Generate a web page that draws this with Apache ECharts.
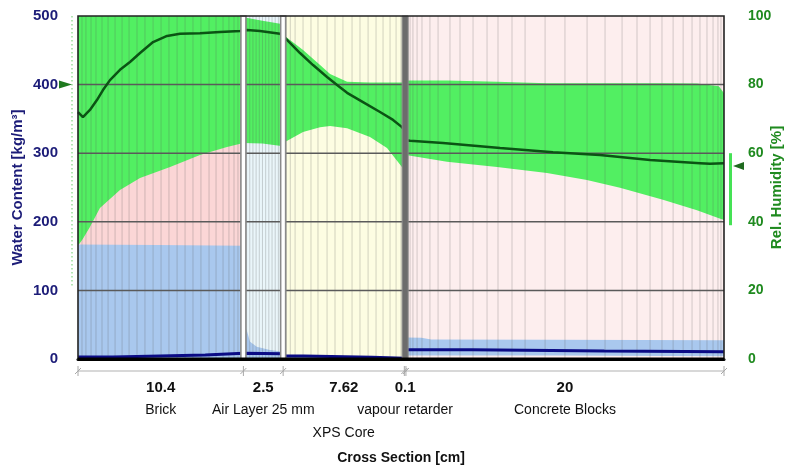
<!DOCTYPE html>
<html><head><meta charset="utf-8">
<script src="https://cdn.jsdelivr.net/npm/echarts@6/dist/echarts.min.js"></script>
<style>html,body{margin:0;padding:0;background:#fff}#c{width:785px;height:471px}</style>
</head><body><div id="c"></div>
<script>
// ---------------- data ----------------
const layerNames = ['Brick', 'Air Layer 25 mm', 'XPS Core', 'vapour retarder', 'Concrete Blocks'];
const layerThickness = [10.4, 2.5, 7.62, 0.1, 20];
const thicknessLabels = ['10.4', '2.5', '7.62', '0.1', '20'];
const wcTicks = [0, 100, 200, 300, 400, 500];
const rhTicks = [0, 20, 40, 60, 80, 100];
// numerical mesh element lines [cm]
const meshLines = [0.25, 0.5, 0.82, 1.13, 1.51, 1.89, 2.33, 2.77, 3.21, 3.71, 4.21, 4.72, 5.22, 5.72, 6.23, 6.73, 7.23, 7.73, 8.24, 8.68, 9.12, 9.49, 9.81, 10.06, 10.25,
  10.6, 10.8, 11.0, 11.2, 11.4, 11.6, 11.8, 12.0, 12.2, 12.4, 12.6,
  13.1, 13.35, 13.65, 14.15, 14.65, 15.09, 15.66, 16.16, 16.66, 17.23, 17.73, 18.24, 18.74, 19.18, 19.62, 20.0, 20.31,
  20.75, 20.88, 21.06, 21.32, 21.63, 22.13, 22.64, 23.39, 24.02, 24.84, 25.72, 26.41, 27.29, 28.11, 29.37, 30.62, 32.01, 33.14, 34.21, 35.15, 35.97, 36.72, 37.42, 38.05, 38.61, 39.11, 39.55, 39.93, 40.24, 40.43];
// relative humidity [%] : [x cm, value]
const rhLine = [[0, 72], [0.31, 70.5], [0.75, 72.6], [1.19, 75.5], [1.57, 78.4], [2.01, 81.3], [2.64, 84.3], [3.27, 86.6], [3.9, 89.2], [4.72, 92.4], [5.6, 94.2], [6.41, 94.8], [7.67, 95.0], [8.93, 95.3], [10.19, 95.6], [10.4, 95.8],
  [10.63, 95.9], [11.44, 95.6], [12.7, 94.8], [12.9, 94.3],
  [13.02, 93.6], [13.96, 89.2], [14.78, 85.7], [15.66, 82.2], [16.29, 79.9], [16.92, 77.6], [17.92, 74.9], [18.99, 72.0], [19.81, 69.7], [20.37, 67.6], [20.52, 66.8],
  [20.62, 63.8], [20.88, 63.6], [22.95, 63.0], [26.54, 61.5], [29.87, 60.3], [32.82, 59.5], [35.97, 58.0], [39.11, 57.1], [39.74, 56.9], [40.62, 57.1]];
// relative humidity envelope : [x cm, min, max]
const rhBand = [[0, 33, 100], [0.3, 35, 100], [0.75, 38.5, 100], [1.38, 44, 100], [2.64, 49.3, 100], [3.9, 52.8, 100], [5.79, 56, 100], [7.67, 59.5, 100], [9.37, 61.8, 100], [10.4, 63, 100],
  [10.4, 63, 99.6], [11.6, 62.8, 98.6], [12.9, 62, 97.6],
  [12.9, 63, 94.5], [14.15, 66.2, 90.1], [15.22, 67.6, 85.7], [15.85, 67.9, 83.1], [16.92, 67.3, 80.8], [18.36, 64.7, 80.6], [19.43, 61.5, 80.6], [20.37, 56, 80.6], [20.52, 55.5, 80.6],
  [20.62, 59.5, 81.2], [23.2, 57.5, 81.2], [26.35, 56, 80.8], [29.49, 54.2, 80.4], [32.0, 52.2, 80.4], [34.08, 49.9, 80.4], [36.78, 46.4, 80.4], [38.92, 43.4, 80.3], [40.3, 41, 79.5], [40.62, 40.5, 77.5]];
// water content [kg/m3] : [x cm, value]
const wcLine = [[0, 3], [2.2, 3], [2.2, 4.5], [5.16, 4.5], [5.16, 6], [8, 6], [8, 8.3], [10.4, 8.3],
  [10.4, 9], [12.9, 7.5],
  [12.9, 4.5], [14.2, 4.5], [14.2, 2.5], [18.5, 2.5], [18.5, 1], [20.52, 1],
  [20.62, 13.5], [24.75, 13.5], [24.75, 11.5], [33.1, 11.5], [33.1, 10.5], [40.62, 10.5]];
// water content envelope : [x cm, min, max]
const wcBand = [[0, 0, 167], [5, 0, 166], [10.4, 0, 165],
  [10.4, 0, 50], [10.61, 0, 42], [10.82, 0, 25], [11.24, 0, 18], [12.07, 0, 13], [12.9, 0, 10.5],
  [12.9, 0, 5], [20.52, 0, 2],
  [20.62, 5, 31.5], [21.6, 5, 31], [22.2, 5, 28.5], [30, 5, 28], [40.62, 4, 27.5]];
// boundary conditions (RH %)
const exteriorRange = [21, 100];
const exteriorMean = 80;
const interiorRange = [39, 60];
const interiorMean = 56.3;

// ---------------- derived ----------------
const bounds = [0];
layerThickness.forEach(t => bounds.push(+(bounds[bounds.length - 1] + t).toFixed(2)));
const total = bounds[bounds.length - 1];
const wcMax = wcTicks[wcTicks.length - 1];

// ---------------- styles ----------------
const layerFill = ['#fbd6d6', '#eaf6fa', '#fdfde2', '#6c6c6c', '#fdeeee'];
const nameRow = [0, 0, 1, 0, 0];
const FONT = '"Liberation Sans", Arial, sans-serif';

const single = [[0, 0]];

function bandRenderer(points, color) {
  return function (params, api) {
    const up = points.map(p => api.coord([p[0], p[2]]));
    const lo = points.slice().reverse().map(p => api.coord([p[0], p[1]]));
    return { type: 'polygon', shape: { points: up.concat(lo) }, style: { fill: color } };
  };
}

const chart = echarts.init(document.getElementById('c'));
chart.setOption({
  animation: false,
  backgroundColor: '#fff',
  grid: { left: 78, right: 61, top: 16, bottom: 112, containLabel: false, outerBoundsMode: 'none' },
  xAxis: {
    type: 'value', min: 0, max: total,
    axisLine: { show: true, onZero: false, lineStyle: { color: '#000', width: 3 } },
    axisTick: { show: false }, axisLabel: { show: false }, splitLine: { show: false }
  },
  yAxis: [{
    type: 'value', min: 0, max: wcMax, interval: 100, position: 'left',
    name: 'Water Content [kg/m³]', nameLocation: 'middle', nameGap: 53, nameRotate: 90, nameMoveOverlap: false,
    nameTextStyle: { color: '#1c1c78', fontWeight: 'bold', fontSize: 15, fontFamily: FONT },
    axisLine: { show: false }, axisTick: { show: false }, splitLine: { show: false },
    axisLabel: { color: '#1c1c78', fontWeight: 'bold', fontSize: 15, fontFamily: FONT, margin: 20 }
  }, {
    type: 'value', min: 0, max: rhTicks[rhTicks.length - 1], interval: 20, position: 'right',
    name: 'Rel. Humidity [%]', nameLocation: 'middle', nameGap: 45, nameRotate: 90, nameMoveOverlap: false,
    nameTextStyle: { color: '#1f8a1f', fontWeight: 'bold', fontSize: 15, fontFamily: FONT },
    axisLine: { show: false }, axisTick: { show: false }, splitLine: { show: false },
    axisLabel: { color: '#1f8a1f', fontWeight: 'bold', fontSize: 14, fontFamily: FONT, margin: 24 }
  }],
  series: [
    { // layer backgrounds
      type: 'custom', z: 1, silent: true,
      data: layerThickness.map((t, i) => [bounds[i], bounds[i + 1], i]),
      encode: { x: [0, 1], y: 2 },
      renderItem: function (params, api) {
        const i = api.value(2);
        const a = api.coord([api.value(0), wcMax]);
        const b = api.coord([api.value(1), 0]);
        return { type: 'rect', shape: { x: a[0], y: a[1], width: b[0] - a[0], height: b[1] - a[1] }, style: { fill: layerFill[i] } };
      }
    },
    { // RH envelope
      type: 'custom', z: 2, silent: true, yAxisIndex: 1, data: single, encode: { x: 0, y: 1 },
      renderItem: bandRenderer(rhBand, '#52ef62')
    },
    { // water content envelope
      type: 'custom', z: 3, silent: true, yAxisIndex: 0, data: single, encode: { x: 0, y: 1 },
      renderItem: bandRenderer(wcBand, '#a9c8ee')
    },
    { // mesh lines
      type: 'custom', z: 4, silent: true, data: meshLines.map(x => [x, 0]), encode: { x: 0, y: 1 },
      renderItem: function (params, api) {
        const a = api.coord([api.value(0), wcMax]);
        const b = api.coord([api.value(0), 0]);
        return { type: 'line', shape: { x1: a[0], y1: a[1], x2: b[0], y2: b[1] }, style: { stroke: 'rgba(90,90,90,0.26)', lineWidth: 1 } };
      }
    },
    { // horizontal grid lines
      type: 'custom', z: 5, silent: true, data: wcTicks.slice(1, -1).map(v => [0, v]), encode: { x: 0, y: 1 },
      renderItem: function (params, api) {
        const a = api.coord([0, api.value(1)]);
        const b = api.coord([total, api.value(1)]);
        return { type: 'line', shape: { x1: a[0], y1: a[1], x2: b[0], y2: b[1] }, style: { stroke: '#5a5a5a', lineWidth: 1.5 } };
      }
    },
    { // water content
      type: 'line', z: 6, yAxisIndex: 0, data: wcLine, symbol: 'none', silent: true,
      lineStyle: { color: '#0b0b85', width: 3 }
    },
    { // relative humidity
      type: 'line', z: 6, yAxisIndex: 1, data: rhLine, symbol: 'none', silent: true,
      lineStyle: { color: '#0b5414', width: 2.5 }
    },
    { // layer separators (air layer)
      type: 'custom', z: 7, silent: true, data: [[bounds[1], 0], [bounds[2], 0]], encode: { x: 0, y: 1 },
      renderItem: function (params, api) {
        const a = api.coord([api.value(0), wcMax]);
        const b = api.coord([api.value(0), 0]);
        return { type: 'rect', shape: { x: a[0] - 2.5, y: a[1], width: 5, height: b[1] - a[1] }, style: { fill: '#fff', stroke: '#8a8a8a', lineWidth: 1.6 } };
      }
    },
    { // vapour retarder
      type: 'custom', z: 7, silent: true, data: [[bounds[3], bounds[4], 0]], encode: { x: [0, 1], y: 2 },
      renderItem: function (params, api) {
        const a = api.coord([api.value(0), wcMax]);
        const b = api.coord([api.value(1), 0]);
        return { type: 'rect', shape: { x: a[0] - 2.2, y: a[1], width: b[0] - a[0] + 4.4, height: b[1] - a[1] }, style: { fill: '#6c6c6c', stroke: '#8a8a8a', lineWidth: 1 } };
      }
    },
    { // plot border
      type: 'custom', z: 8, silent: true, data: single, encode: { x: 0, y: 1 },
      renderItem: function (params, api) {
        const a = api.coord([0, wcMax]);
        const b = api.coord([total, 0]);
        return { type: 'group', children: [
          { type: 'rect', shape: { x: a[0], y: a[1], width: b[0] - a[0], height: b[1] - a[1] }, style: { fill: 'none', stroke: '#222', lineWidth: 1.6 } },
          { type: 'line', shape: { x1: a[0], y1: b[1], x2: b[0], y2: b[1] }, style: { stroke: '#000', lineWidth: 3 } }
        ] };
      }
    },
    { // cross section annotation
      type: 'custom', z: 8, silent: true, data: single, encode: { x: 0, y: 1 },
      renderItem: function (params, api) {
        const base = api.coord([0, 0]);
        const right = api.coord([total, 0]);
        const y0 = base[1];
        const ch = [];
        ch.push({ type: 'line', shape: { x1: base[0], y1: y0 + 12, x2: right[0], y2: y0 + 12 }, style: { stroke: '#cbcbcb', lineWidth: 1.5 } });
        bounds.forEach(bv => {
          const x = api.coord([bv, 0])[0];
          ch.push({ type: 'line', shape: { x1: x, y1: y0 + 7, x2: x, y2: y0 + 17 }, style: { stroke: '#a8a8a8', lineWidth: 1 } });
          ch.push({ type: 'line', shape: { x1: x - 3, y1: y0 + 15, x2: x + 3, y2: y0 + 9 }, style: { stroke: '#a8a8a8', lineWidth: 1 } });
        });
        layerNames.forEach((n, i) => {
          const mid = api.coord([(bounds[i] + bounds[i + 1]) / 2, 0])[0];
          ch.push({ type: 'text', x: mid, y: y0 + 29, style: { text: thicknessLabels[i], font: 'bold 15px ' + FONT, fill: '#111', align: 'center', verticalAlign: 'middle' } });
          ch.push({ type: 'text', x: mid, y: y0 + 51 + nameRow[i] * 23, style: { text: n, font: '14px ' + FONT, fill: '#111', align: 'center', verticalAlign: 'middle' } });
        });
        ch.push({ type: 'text', x: (base[0] + right[0]) / 2, y: y0 + 99, style: { text: 'Cross Section [cm]', font: 'bold 14px ' + FONT, fill: '#111', align: 'center', verticalAlign: 'middle' } });
        return { type: 'group', children: ch };
      }
    },
    { // boundary condition indicators
      type: 'custom', z: 8, silent: true, yAxisIndex: 1, data: single, encode: { x: 0, y: 1 },
      renderItem: function (params, api) {
        const e1 = api.coord([0, exteriorRange[1]]);
        const e0 = api.coord([0, exteriorRange[0]]);
        const em = api.coord([0, exteriorMean]);
        const i1 = api.coord([total, interiorRange[1]]);
        const i0 = api.coord([total, interiorRange[0]]);
        const im = api.coord([total, interiorMean]);
        return { type: 'group', children: [
          { type: 'line', shape: { x1: e1[0] - 6, y1: e1[1], x2: e0[0] - 6, y2: e0[1] }, style: { stroke: '#9ade9a', lineWidth: 1.5, lineDash: [1.5, 2.5] } },
          { type: 'polygon', shape: { points: [[em[0] - 6, em[1]], [em[0] - 19, em[1] - 4], [em[0] - 19, em[1] + 4]] }, style: { fill: '#1f7a1f' } },
          { type: 'rect', shape: { x: i1[0] + 5, y: i1[1], width: 3, height: i0[1] - i1[1] }, style: { fill: '#45e255' } },
          { type: 'polygon', shape: { points: [[im[0] + 9, im[1]], [im[0] + 20, im[1] - 4], [im[0] + 20, im[1] + 4]] }, style: { fill: '#1f6a1f' } }
        ] };
      }
    }
  ]
});
</script>
</body></html>
